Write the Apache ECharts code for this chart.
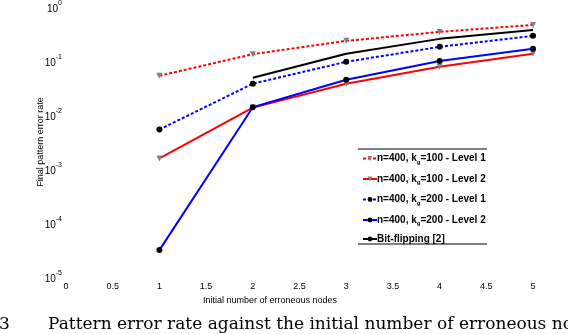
<!DOCTYPE html>
<html>
<head>
<meta charset="utf-8">
<script src="https://cdn.jsdelivr.net/npm/echarts@6/dist/echarts.min.js"></script>
<style>
  html, body { margin: 0; padding: 0; background: #fff; }
</style>
</head>
<body>
<div id="main" style="width:568px;height:334px;"></div>
<script type="text/javascript">
  // data
  var nodes = [1, 2, 3, 4, 5];
  var k100L1 = [0.0533, 0.134, 0.236, 0.346, 0.466];
  var k100L2 = [0.00157, 0.0137, 0.038, 0.078, 0.136];
  var k200L1 = [0.00538, 0.038, 0.0967, 0.183, 0.292];
  var k200L2 = [0.0000315, 0.0139, 0.045, 0.1, 0.168];
  var bitFlip = [null, 0.049, 0.136, 0.257, 0.376];
  var seriesNames = [
    'n=400, k_g=100 - Level 1',
    'n=400, k_g=100 - Level 2',
    'n=400, k_g=200 - Level 1',
    'n=400, k_g=200 - Level 2',
    'Bit-flipping [2]'
  ];
  var yExponents = [0, -1, -2, -3, -4, -5];

  function pairs(vals) {
    return nodes.map(function (x, i) { return [x, vals[i]]; });
  }

  var font = 'Liberation Sans';

  var option = {
    animation: false,
    grid: { left: 66, right: 35, top: 6, bottom: 57 },
    xAxis: {
      type: 'value',
      min: 0, max: 5, interval: 0.5,
      name: 'Initial number of erroneous nodes',
      nameLocation: 'middle',
      nameGap: 15,
      nameTextStyle: { fontFamily: font, fontSize: 9, color: '#000', padding: [0, 59, 0, 0] },
      axisLine: { show: false },
      axisTick: { show: false },
      splitLine: { show: false },
      axisLabel: { fontFamily: font, fontSize: 9, color: '#000', margin: 5 }
    },
    yAxis: {
      type: 'log',
      logBase: 10,
      min: 1e-5, max: 1,
      name: 'Final pattern error rate',
      nameLocation: 'middle',
      nameGap: 21,
      nameMoveOverlap: false,
      nameTextStyle: { fontFamily: font, fontSize: 9, color: '#000' },
      axisLine: { show: false },
      axisTick: { show: false },
      splitLine: { show: false },
      axisLabel: {
        margin: 4,
        formatter: function (v) {
          var e = Math.round(Math.log10(v));
          if (yExponents.indexOf(e) < 0) return '';
          return '{b|10}{s|' + e + '}';
        },
        rich: {
          b: { fontFamily: font, fontSize: 10, color: '#000', lineHeight: 14, verticalAlign: 'bottom' },
          s: { fontFamily: font, fontSize: 7, color: '#000', lineHeight: 14, verticalAlign: 'top' }
        }
      }
    },
    legend: {
      orient: 'vertical',
      left: 357,
      top: 147,
      itemWidth: 14,
      itemHeight: 6,
      itemGap: 7.5,
      data: seriesNames,
      formatter: function (name) {
        var m = name.match(/^(.*k)_g(=.*)$/);
        if (m) return '{t|' + m[1] + '}{sub|g}{t|' + m[2] + '}';
        return '{t|' + name + '}';
      },
      textStyle: {
        padding: [0, 0, 0, -5],
        rich: {
          t: { fontFamily: font, fontSize: 10, fontWeight: 'bold', color: '#000', lineHeight: 12 },
          sub: { fontFamily: font, fontSize: 6, fontWeight: 'bold', color: '#000', lineHeight: 12, padding: [7, 0, 0, 0] }
        }
      }
    },
    graphic: [
      { type: 'line', shape: { x1: 358, y1: 149, x2: 487, y2: 149 }, style: { stroke: '#000', lineWidth: 1 } },
      { type: 'line', shape: { x1: 358, y1: 244, x2: 487, y2: 244 }, style: { stroke: '#000', lineWidth: 1 } },
      { type: 'text', left: -1, top: 316, style: { text: '3', font: '17px "DejaVu Serif"', fill: '#000' } },
      { type: 'text', left: 48, top: 316, style: { text: 'Pattern error rate against the initial number of erroneous nodes', font: '17px "DejaVu Serif"', fill: '#000' } }
    ],
    series: [
      {
        name: seriesNames[0], type: 'line', data: pairs(k100L1),
        lineStyle: { color: '#ff0000', width: 2, type: [3, 2] },
        itemStyle: { color: '#808080' },
        symbol: 'triangle', symbolRotate: 180, symbolSize: 6
      },
      {
        name: seriesNames[1], type: 'line', data: pairs(k100L2),
        lineStyle: { color: '#ff0000', width: 2 },
        itemStyle: { color: '#808080' },
        symbol: 'triangle', symbolRotate: 180, symbolSize: 6
      },
      {
        name: seriesNames[2], type: 'line', data: pairs(k200L1),
        lineStyle: { color: '#0000ff', width: 2, type: [3, 2] },
        itemStyle: { color: '#000' },
        symbol: 'circle', symbolSize: 6
      },
      {
        name: seriesNames[3], type: 'line', data: pairs(k200L2),
        lineStyle: { color: '#0000ff', width: 2 },
        itemStyle: { color: '#000' },
        symbol: 'circle', symbolSize: 6
      },
      {
        name: seriesNames[4], type: 'line', data: pairs(bitFlip),
        lineStyle: { color: '#000', width: 2 },
        itemStyle: { color: '#000' },
        symbol: 'none'
      }
    ]
  };

  var myChart = echarts.init(document.getElementById('main'));
  myChart.setOption(option);
</script>
</body>
</html>
